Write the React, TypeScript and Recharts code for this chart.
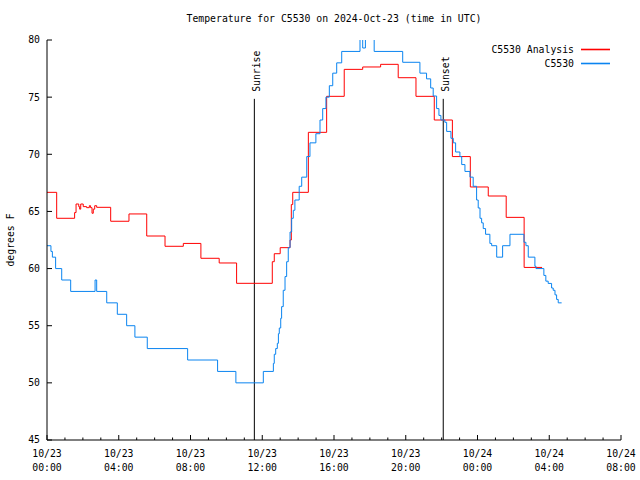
import { LineChart, Line, XAxis, YAxis, ReferenceLine, Legend } from "recharts"

const FONT = "'DejaVu Sans Mono', monospace"

// hours since 10/23 00:00 UTC
const hourTicks = [0, 1, 2, 3, 4, 5, 6, 7, 8, 9, 10, 11, 12, 13, 14, 15, 16, 17, 18, 19, 20, 21, 22, 23, 24, 25, 26, 27, 28, 29, 30, 31, 32]
const dateLabels = ["10/23", "10/23", "10/23", "10/23", "10/23", "10/23", "10/24", "10/24", "10/24"]
const timeLabels = ["00:00", "04:00", "08:00", "12:00", "16:00", "20:00", "00:00", "04:00", "08:00"]
const tempTicks = [45, 50, 55, 60, 65, 70, 75, 80]

const seriesNames = ["C5530 Analysis", "C5530"]
const seriesColors = ["#ff0000", "#0a84f0"]

const analysisHours = [0, 0.54, 1.54, 1.62, 1.77, 1.82, 1.88, 2.02, 2.21, 2.36, 2.43, 2.51, 2.58, 2.66, 2.77, 3.55, 4.57, 5.56, 6.58, 7.6, 8.58, 9.6, 10.57, 12.56, 12.67, 13.0, 13.55, 13.62, 13.7, 14.57, 15.59, 16.57, 17.6, 18.6, 19.58, 20.57, 21.59, 22.6, 23.6, 24.6, 25.6, 26.6, 27.6]
const analysisTemps = [66.67, 64.4, 64.9, 65.65, 65.42, 65.2, 65.65, 65.42, 65.33, 65.5, 65.33, 64.84, 65.2, 65.5, 65.36, 64.14, 64.78, 62.85, 61.95, 62.2, 60.9, 60.49, 58.71, 60.6, 61.3, 61.83, 62.5, 65.6, 66.67, 71.92, 75.07, 77.43, 77.64, 77.87, 76.7, 75.07, 73.0, 69.8, 67.14, 66.35, 64.48, 60.1, 60.1]

const stationHours = [0, 0.22, 0.3, 0.48, 0.82, 1.32, 2.68, 2.77, 3.33, 3.92, 4.44, 4.9, 5.59, 7.84, 9.51, 10.53, 12.06, 12.62, 12.67, 12.75, 12.84, 12.9, 12.95, 13.03, 13.08, 13.17, 13.27, 13.36, 13.45, 13.55, 13.64, 13.73, 13.82, 14.06, 14.2, 14.48, 14.66, 14.99, 15.22, 15.37, 15.55, 15.74, 15.93, 16.15, 16.43, 17.45, 17.6, 17.75, 18.24, 19.83, 20.79, 21.16, 21.39, 21.53, 21.72, 21.85, 21.96, 22.18, 22.28, 22.52, 22.65, 22.78, 23.02, 23.12, 23.3, 23.58, 23.76, 23.95, 24.04, 24.14, 24.23, 24.32, 24.45, 24.69, 24.79, 25.07, 25.4, 25.81, 26.59, 26.7, 26.83, 27.2, 27.26, 27.7, 27.81, 27.94, 28.13, 28.22, 28.32, 28.41, 28.5, 28.69]
const stationTemps = [62.0, 61.5, 61.0, 60.0, 59.0, 58.0, 59.0, 58.0, 57.0, 56.0, 55.0, 54.0, 53.0, 52.0, 51.0, 50.0, 51.0, 51.7, 52.5, 53.0, 53.46, 54.3, 54.8, 55.65, 56.67, 58.1, 59.3, 60.6, 61.83, 63.2, 64.4, 65.1, 66.0, 67.2, 68.0, 69.8, 71.0, 71.8, 73.0, 74.0, 75.0, 76.0, 77.1, 78.0, 79.0, 80.5, 79.3, 80.5, 79.0, 78.05, 77.1, 76.6, 75.8, 75.1, 74.0, 73.4, 73.0, 72.8, 72.0, 71.4, 71.0, 70.2, 69.8, 69.1, 68.5, 68.0, 67.2, 66.0, 65.3, 64.4, 64.0, 63.5, 63.0, 62.2, 62.0, 61.0, 62.0, 63.0, 62.3, 62.0, 61.0, 60.2, 60.0, 59.4, 58.9, 58.7, 58.3, 58.1, 57.7, 57.3, 57.0, 57.0]

const sunriseHour = 11.56
const sunsetHour = 22.09
const sunLineTop = 74.85

const analysisData = analysisHours.map((h, i) => ({ h, v: analysisTemps[i] }))
const stationData = stationHours.map((h, i) => ({ h, v: stationTemps[i] }))

function BottomTick({ x, y, payload }: any) {
  const h = payload.value as number
  const major = h % 4 === 0
  return (
    <g>
      <line x1={x} y1={y} x2={x} y2={y - (major ? 5 : 2.5)} stroke="#000" />
      {major && (
        <text x={x} y={y + 17} textAnchor="middle" fontSize={9.8} fontFamily={FONT} fill="#000">
          <tspan x={x}>{dateLabels[h / 4]}</tspan>
          <tspan x={x} dy={14}>{timeLabels[h / 4]}</tspan>
        </text>
      )}
    </g>
  )
}

function TopTick({ x, y, payload }: any) {
  const major = payload.value % 4 === 0
  return <line x1={x} y1={y} x2={x} y2={y + (major ? 5 : 2.5)} stroke="#000" />
}

function LeftTick({ x, y, payload }: any) {
  return (
    <g>
      <line x1={x} y1={y} x2={x + 5} y2={y} stroke="#000" />
      <text x={x - 7} y={y} dy="0.35em" textAnchor="end" fontSize={9.8} fontFamily={FONT} fill="#000">
        {payload.value}
      </text>
    </g>
  )
}

function RightTick({ x, y }: any) {
  return <line x1={x} y1={y} x2={x - 5} y2={y} stroke="#000" />
}

function YLabel({ viewBox }: any) {
  const lx = viewBox.x + 14
  const ly = viewBox.y + viewBox.height / 2
  return (
    <text x={lx} y={ly} transform={`rotate(-90 ${lx} ${ly})`} textAnchor="middle" fontSize={9.8} fontFamily={FONT} fill="#000">
      degrees F
    </text>
  )
}

function SunLabel({ viewBox, text }: any) {
  const lx = viewBox.x + 6
  const ly = viewBox.y - 7
  return (
    <text x={lx} y={ly} transform={`rotate(-90 ${lx} ${ly})`} textAnchor="start" fontSize={9.8} fontFamily={FONT} fill="#000">
      {text}
    </text>
  )
}

function LegendBox() {
  return (
    <div style={{ fontFamily: FONT, fontSize: 9.8 }}>
      {seriesNames.map((name, i) => (
        <div key={name} style={{ display: "flex", justifyContent: "flex-end", alignItems: "center", height: 14 }}>
          <span>{name}</span>
          <svg width={36} height={14} style={{ display: "block" }}>
            <line x1={7} y1={7.5} x2={36} y2={7.5} stroke={seriesColors[i]} strokeWidth={1.6} />
          </svg>
        </div>
      ))}
    </div>
  )
}

export default function App() {
  return (
    <div style={{ position: "absolute", left: 0, top: 0, width: 640, height: 480, background: "#fff" }}>
      <div
        style={{
          position: "absolute",
          top: 13,
          left: 47,
          width: 574,
          textAlign: "center",
          fontFamily: FONT,
          fontSize: 9.8,
          lineHeight: "12px",
        }}
      >
        Temperature for C5530 on 2024-Oct-23 (time in UTC)
      </div>
      <LineChart width={640} height={480} margin={{ top: 40, right: 19, bottom: 10, left: 0 }} style={{ fontFamily: FONT }}>
        <XAxis
          dataKey="h"
          type="number"
          domain={[0, 32]}
          ticks={hourTicks}
          interval={0}
          tickSize={0}
          tickMargin={0}
          tickLine={false}
          tick={<BottomTick />}
          height={30}
          stroke="#000"
          allowDataOverflow
        />
        <XAxis
          xAxisId="top"
          dataKey="h"
          orientation="top"
          type="number"
          domain={[0, 32]}
          ticks={hourTicks}
          interval={0}
          tickSize={0}
          tickMargin={0}
          tickLine={false}
          tick={<TopTick />}
          height={0}
          stroke="#000"
        />
        <YAxis
          type="number"
          domain={[45, 80]}
          ticks={tempTicks}
          interval={0}
          tickSize={0}
          tickMargin={0}
          tickLine={false}
          tick={<LeftTick />}
          width={47}
          stroke="#000"
          allowDataOverflow
          label={<YLabel />}
        />
        <YAxis
          yAxisId="right"
          orientation="right"
          type="number"
          domain={[45, 80]}
          ticks={tempTicks}
          interval={0}
          tickSize={0}
          tickMargin={0}
          tickLine={false}
          tick={<RightTick />}
          width={0}
          stroke="#000"
        />
        <Legend
          layout="vertical"
          verticalAlign="middle"
          align="center"
          content={<LegendBox />}
          wrapperStyle={{ top: 42, left: 474, width: 136 }}
        />
        <ReferenceLine
          segment={[{ x: sunriseHour, y: 45 }, { x: sunriseHour, y: sunLineTop }]}
          stroke="#000"
          label={<SunLabel text="Sunrise" />}
        />
        <ReferenceLine
          segment={[{ x: sunsetHour, y: 45 }, { x: sunsetHour, y: sunLineTop }]}
          stroke="#000"
          label={<SunLabel text="Sunset" />}
        />
        <Line
          data={analysisData}
          dataKey="v"
          name={seriesNames[0]}
          type="stepAfter"
          stroke={seriesColors[0]}
          strokeWidth={1}
          dot={false}
          isAnimationActive={false}
        />
        <Line
          data={stationData}
          dataKey="v"
          name={seriesNames[1]}
          type="stepAfter"
          stroke={seriesColors[1]}
          strokeWidth={1}
          dot={false}
          isAnimationActive={false}
        />
      </LineChart>
    </div>
  )
}
